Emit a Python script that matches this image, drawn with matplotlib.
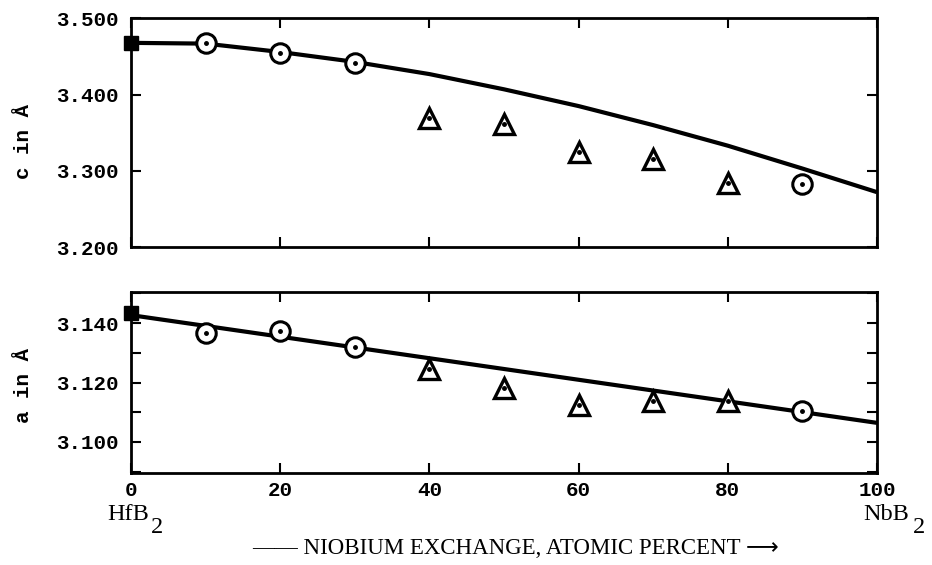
import matplotlib
matplotlib.use("Agg")
import matplotlib.pyplot as plt
import numpy as np

# ---- data ----
x_curve = [0, 10, 20, 30, 40, 50, 60, 70, 80, 90, 100]
c_curve = [3.468, 3.467, 3.456, 3.443, 3.427, 3.407, 3.385, 3.360, 3.333, 3.303, 3.272]
a_line_x = [0, 100]
a_line = [3.1427, 3.1064]

x_end = [0]
c_end = [3.468]
a_end = [3.1435]

x_circ = [10, 20, 30, 90]
c_circ = [3.468, 3.455, 3.441, 3.283]
a_circ = [3.1366, 3.1373, 3.1320, 3.1105]

x_tri = [40, 50, 60, 70, 80]
c_tri = [3.370, 3.362, 3.325, 3.315, 3.284]
a_tri = [3.1244, 3.1180, 3.1125, 3.1136, 3.1136]

c_ticks = [3.2, 3.3, 3.4, 3.5]
c_ticklabels = ["3.200", "3.300", "3.400", "3.500"]
a_ticks = [3.09, 3.10, 3.11, 3.12, 3.13, 3.14, 3.15]
a_ticklabels = ["", "3.100", "", "3.120", "", "3.140", ""]
x_ticks = [0, 20, 40, 60, 80, 100]
x_ticklabels = ["0", "20", "40", "60", "80", "100"]

mono = 'Liberation Mono'
serif = 'Liberation Serif'

fig = plt.figure(figsize=(9.32, 5.65), dpi=100)
ax1 = fig.add_axes([0.1406, 0.5628, 0.8004, 0.4045])
ax2 = fig.add_axes([0.1406, 0.1628, 0.8004, 0.3204])

def style(ax):
    for s in ax.spines.values():
        s.set_linewidth(2.0)
    ax.tick_params(direction='in', length=7, width=1.5, top=True, right=True)
    ax.tick_params(axis='y', pad=9)
    ax.set_xlim(0, 100)
    ax.set_xticks(x_ticks)

def markers(ax, ye, yc, yt):
    ax.plot(x_end, ye, 's', ms=10, color='black', zorder=5, clip_on=False)
    ax.plot(x_circ, yc, 'o', ms=14, mfc='white', mec='black', mew=2.2, ls='none', zorder=5)
    ax.plot(x_circ, yc, 'o', ms=2.5, color='black', ls='none', zorder=6)
    ax.plot(x_tri, yt, '^', ms=15, mfc='white', mec='black', mew=2.4, ls='none', zorder=5)
    ax.plot(x_tri, yt, 'o', ms=2.5, color='black', ls='none', zorder=6)

style(ax1)
ax1.plot(x_curve, c_curve, color='black', lw=3, solid_capstyle='butt', zorder=3)
markers(ax1, c_end, c_circ, c_tri)
ax1.set_ylim(3.2, 3.5)
ax1.set_yticks(c_ticks)
ax1.set_yticklabels(c_ticklabels, fontfamily=mono, fontsize=15, fontweight='bold')
ax1.set_xticklabels([])

style(ax2)
ax2.plot(a_line_x, a_line, color='black', lw=3, solid_capstyle='butt', zorder=3)
markers(ax2, a_end, a_circ, a_tri)
ax2.set_ylim(3.0895, 3.1505)
ax2.set_yticks(a_ticks)
ax2.set_yticklabels(a_ticklabels, fontfamily=mono, fontsize=15, fontweight='bold')
ax2.set_xticklabels(x_ticklabels, fontfamily=mono, fontsize=15, fontweight='bold')
ax2.tick_params(axis='x', pad=6)

fig.text(0.025, 0.749, "c in Å", rotation=90, ha='center', va='center',
         fontfamily=mono, fontsize=15, fontweight='bold')
fig.text(0.025, 0.317, "a in Å", rotation=90, ha='center', va='center',
         fontfamily=mono, fontsize=15, fontweight='bold')

fig.text(0.115, 0.089, "HfB", ha='left', va='center', fontfamily=serif, fontsize=17.5)
fig.text(0.162, 0.066, "2", ha='left', va='center', fontfamily=serif, fontsize=17.5)
fig.text(0.926, 0.089, "NbB", ha='left', va='center', fontfamily=serif, fontsize=17.5)
fig.text(0.980, 0.066, "2", ha='left', va='center', fontfamily=serif, fontsize=17.5)
fig.text(0.553, 0.029, "—— NIOBIUM EXCHANGE, ATOMIC PERCENT ⟶", ha='center', va='center',
         family=[serif, 'DejaVu Sans'], fontsize=16.5)

fig.savefig("out.png", dpi=100)
